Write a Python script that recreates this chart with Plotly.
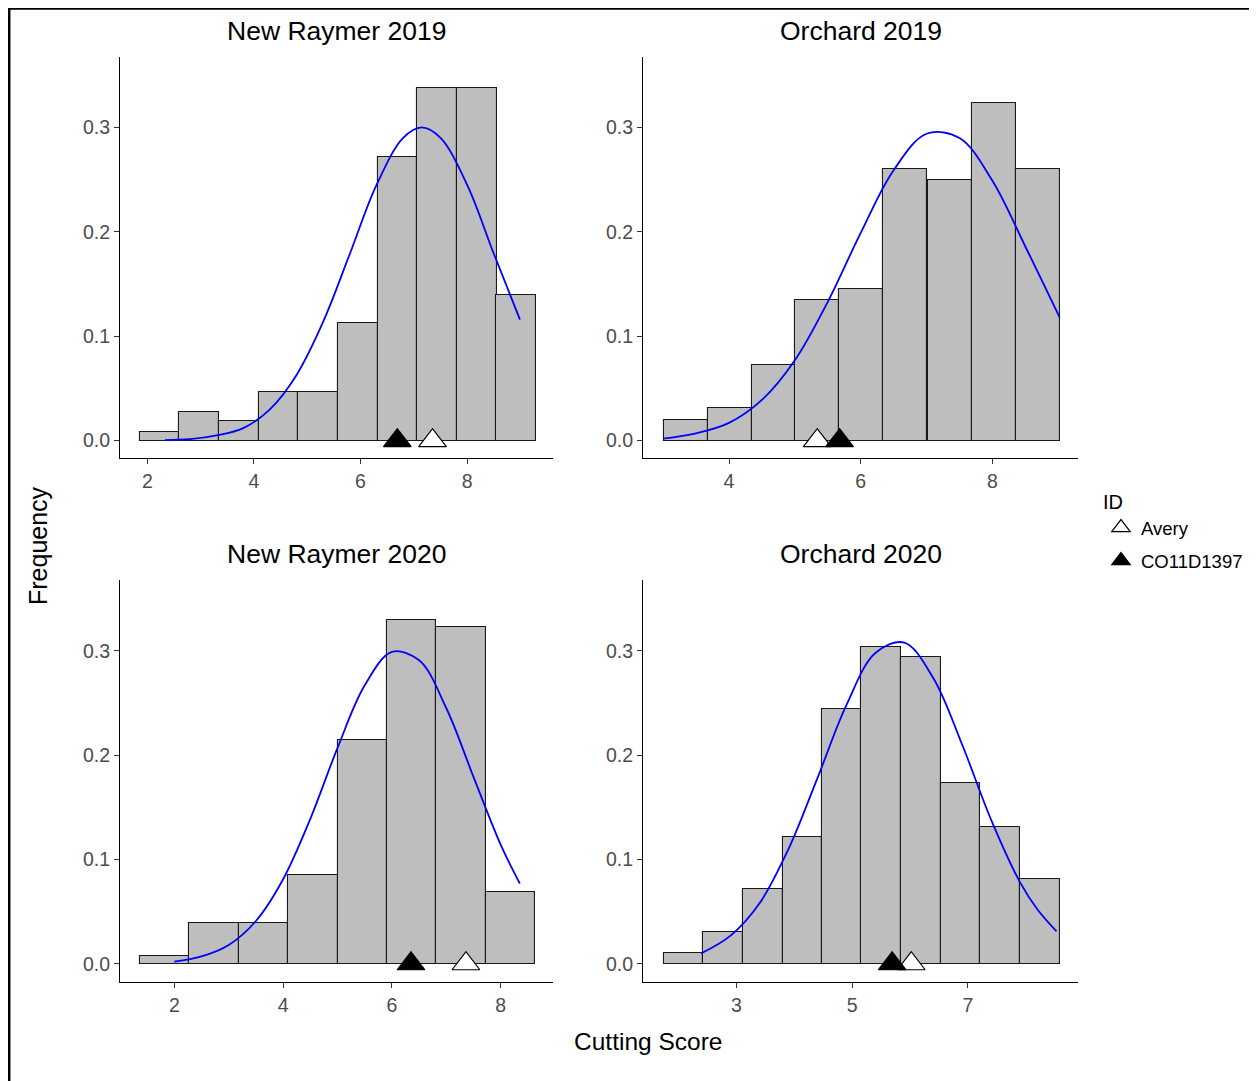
import plotly.graph_objects as go

W, H = 1257, 1081
OFF = 8  # page body margin in the browser
FONT = "Liberation Sans, Arial, sans-serif"

# ---------------- data ----------------
panel_titles = ["New Raymer 2019", "Orchard 2019", "New Raymer 2020", "Orchard 2020"]

nr19_bin_centers = [2.23, 2.97, 3.72, 4.46, 5.20, 5.95, 6.69, 7.43, 8.18, 8.92]
nr19_freq = [0.0086, 0.0274, 0.0185, 0.0463, 0.0463, 0.1123, 0.2713, 0.3374, 0.3374, 0.1398]
nr19_bin_width = 0.743
nr19_curve_x = [2.33, 2.8, 3.3, 3.8, 4.3, 4.8, 5.3, 5.8, 6.3, 6.8, 7.15, 7.5, 8.0, 8.5, 8.99]
nr19_curve_y = [0.0005, 0.0014, 0.005, 0.012, 0.030, 0.063, 0.114, 0.179, 0.245, 0.290, 0.300, 0.290, 0.245, 0.179, 0.116]

or19_bin_centers = [3.34, 4.01, 4.68, 5.34, 6.01, 6.68, 7.35, 8.02, 8.69]
or19_freq = [0.0198, 0.031, 0.0725, 0.135, 0.145, 0.260, 0.250, 0.323, 0.260]
or19_bin_width = 0.668
or19_curve_x = [3.0, 3.5, 4.0, 4.5, 5.0, 5.5, 6.0, 6.5, 7.0, 7.5, 8.0, 8.5, 9.022]
or19_curve_y = [0.002, 0.007, 0.017, 0.039, 0.077, 0.133, 0.199, 0.259, 0.294, 0.290, 0.249, 0.186, 0.118]

nr20_bin_centers = [1.82, 2.73, 3.64, 4.55, 5.46, 6.36, 7.27, 8.18]
nr20_freq = [0.0077, 0.0389, 0.0389, 0.0855, 0.215, 0.330, 0.323, 0.0689]
nr20_bin_width = 0.909
nr20_curve_x = [2.0, 2.5, 3.0, 3.5, 4.0, 4.5, 5.0, 5.5, 6.0, 6.5, 7.0, 7.5, 8.0, 8.35]
nr20_curve_y = [0.002, 0.007, 0.018, 0.041, 0.081, 0.139, 0.207, 0.267, 0.299, 0.291, 0.245, 0.179, 0.114, 0.077]

or20_bin_centers = [2.09, 2.77, 3.46, 4.14, 4.82, 5.50, 6.19, 6.87, 7.55, 8.24]
or20_freq = [0.0102, 0.0303, 0.0715, 0.1216, 0.2442, 0.3042, 0.2943, 0.173, 0.1315, 0.0814]
or20_bin_width = 0.683
or20_curve_x = [2.39, 2.9, 3.4, 3.9, 4.4, 4.9, 5.4, 5.9, 6.4, 6.9, 7.4, 7.9, 8.2, 8.53]
or20_curve_y = [0.010, 0.027, 0.058, 0.110, 0.178, 0.248, 0.298, 0.308, 0.274, 0.210, 0.138, 0.078, 0.052, 0.031]

avery_score = [7.35, 5.34, 7.36, 6.02]
co11d1397_score = [6.69, 5.68, 6.35, 5.69]

id_labels = ["Avery", "CO11D1397"]

x_tickvals = [[2, 4, 6, 8], [4, 6, 8], [2, 4, 6, 8], [3, 5, 7]]
y_tickvals = [0.0, 0.1, 0.2, 0.3]

panels = [
    (nr19_bin_centers, nr19_freq, nr19_bin_width, nr19_curve_x, nr19_curve_y),
    (or19_bin_centers, or19_freq, or19_bin_width, or19_curve_x, or19_curve_y),
    (nr20_bin_centers, nr20_freq, nr20_bin_width, nr20_curve_x, nr20_curve_y),
    (or20_bin_centers, or20_freq, or20_bin_width, or20_curve_x, or20_curve_y),
]

# ---------------- layout geometry (screen pixels) ----------------
px_boxes = [  # left, right, top, bottom
    (120, 553, 57, 458),
    (643, 1078, 57, 458),
    (120, 553, 580, 982),
    (643, 1078, 580, 982),
]
x_ranges = [[1.488, 9.61], [2.694, 9.30], [1.002, 8.96], [1.387, 8.90]]
y_ranges = [[-0.0166, 0.3675], [-0.0166, 0.3675], [-0.0175, 0.368], [-0.0175, 0.368]]


def fx(px):
    return (px - OFF) / W


def fy(py):
    return 1 - (py - OFF) / H


fig = go.Figure()
layout_axes = {}
annotations = []

for i, (bc, fr, bw, cx, cy) in enumerate(panels):
    n = i + 1
    xa = "x" if n == 1 else f"x{n}"
    ya = "y" if n == 1 else f"y{n}"
    fig.add_trace(go.Bar(
        x=bc, y=fr, width=bw, xaxis=xa, yaxis=ya,
        marker=dict(color="#BEBEBE", line=dict(color="#1a1a1a", width=1.1)),
        showlegend=False, hoverinfo="x+y",
    ))
    fig.add_trace(go.Scatter(
        x=cx, y=cy, xaxis=xa, yaxis=ya, mode="lines",
        line=dict(color="#0000FF", width=1.8, shape="spline", smoothing=1.0),
        showlegend=False,
    ))
    fig.add_trace(go.Scatter(
        x=[avery_score[i]], y=[0], xaxis=xa, yaxis=ya, mode="markers",
        marker=dict(symbol="triangle-up", size=24, color="white",
                    line=dict(color="black", width=1.2)),
        name=id_labels[0], legendgroup="a", showlegend=(i == 0),
    ))
    fig.add_trace(go.Scatter(
        x=[co11d1397_score[i]], y=[0], xaxis=xa, yaxis=ya, mode="markers",
        marker=dict(symbol="triangle-up", size=24, color="black",
                    line=dict(color="black", width=1.2)),
        name=id_labels[1], legendgroup="b", showlegend=(i == 0),
    ))

    l, r, t, b = px_boxes[i]
    xkey = "xaxis" if n == 1 else f"xaxis{n}"
    ykey = "yaxis" if n == 1 else f"yaxis{n}"
    common = dict(showline=True, linecolor="black", linewidth=1.2,
                  ticks="outside", ticklen=5, tickcolor="#333333", tickwidth=1.2,
                  showgrid=False, zeroline=False,
                  tickfont=dict(family=FONT, size=19.5, color="#4D4D4D"))
    layout_axes[xkey] = dict(domain=[fx(l), fx(r)], range=x_ranges[i],
                             anchor=ya, tickvals=x_tickvals[i], **common)
    layout_axes[ykey] = dict(domain=[fy(b), fy(t)], range=y_ranges[i],
                             anchor=xa, tickvals=y_tickvals, tickformat=".1f", **common)
    annotations.append(dict(
        text=panel_titles[i], x=fx((l + r) / 2), y=fy(31 if i < 2 else 554),
        xref="paper", yref="paper", showarrow=False,
        xanchor="center", yanchor="middle",
        font=dict(family=FONT, size=26.5, color="black"),
    ))

annotations.append(dict(text="Cutting Score", x=fx(648), y=fy(1041),
                        xref="paper", yref="paper", showarrow=False,
                        xanchor="center", yanchor="middle",
                        font=dict(family=FONT, size=24.5, color="black")))
annotations.append(dict(text="Frequency", x=fx(38), y=fy(546),
                        xref="paper", yref="paper", showarrow=False, textangle=-90,
                        xanchor="center", yanchor="middle",
                        font=dict(family=FONT, size=25, color="black")))

fig.update_layout(
    width=W, height=H,
    margin=dict(l=0, r=0, t=0, b=0),
    paper_bgcolor="white", plot_bgcolor="rgba(0,0,0,0)",
    barmode="overlay", bargap=0,
    annotations=annotations,
    legend=dict(
        title=dict(text="ID", font=dict(family=FONT, size=20, color="black")),
        x=fx(1101), y=fy(483), xanchor="left", yanchor="top",
        font=dict(family=FONT, size=18.5, color="black"),
        itemsizing="trace", tracegroupgap=6, traceorder="grouped",
        bgcolor="rgba(0,0,0,0)",
    ),
    shapes=[
        dict(type="line", xref="paper", yref="paper", x0=1 / W, x1=1.0, y0=1 - 0.5 / H, y1=1 - 0.5 / H,
             line=dict(color="black", width=2.5)),
        dict(type="line", xref="paper", yref="paper", x0=1.2 / W, x1=1.2 / W, y0=0, y1=1,
             line=dict(color="black", width=2.5)),
    ],
    **layout_axes,
)

fig.write_html("out.html")
